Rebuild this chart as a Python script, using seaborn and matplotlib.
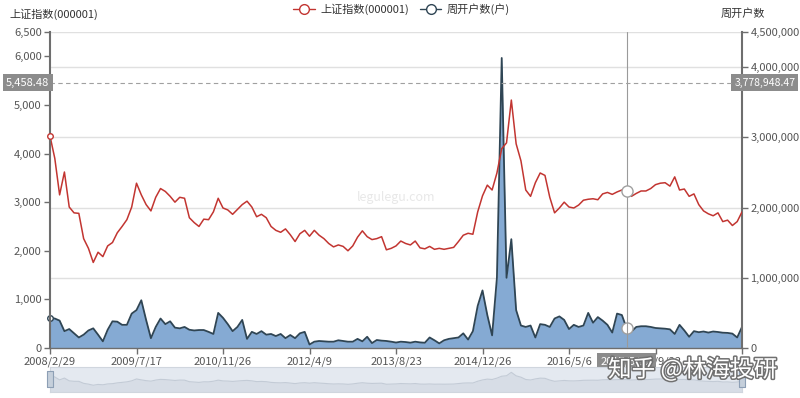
import numpy as np
import pandas as pd
import matplotlib
matplotlib.use("Agg")
import matplotlib.pyplot as plt
import matplotlib.patheffects as pe
from matplotlib.lines import Line2D
from matplotlib.ticker import FuncFormatter
from matplotlib.transforms import blended_transform_factory
import seaborn as sns

# 每 4 周取一个点，从 2008/2/29 开始
week_step = 4

sh_index = [
    4360, 3900, 3150, 3620, 2900, 2780, 2770, 2250, 2050, 1760,
    1970, 1880, 2100, 2170, 2370, 2500, 2640, 2900, 3390, 3150,
    2950, 2820, 3100, 3280, 3220, 3120, 3000, 3100, 3080, 2680,
    2580, 2500, 2650, 2640, 2800, 3080, 2880, 2840, 2750, 2850,
    2950, 3020, 2900, 2700, 2750, 2680, 2500, 2420, 2380, 2450,
    2330, 2190, 2350, 2420, 2300, 2420, 2320, 2250, 2150, 2080,
    2120, 2090, 2000, 2100, 2280, 2410, 2290, 2230, 2250, 2290,
    2020, 2050, 2100, 2200, 2150, 2120, 2200, 2060, 2040, 2090,
    2030, 2050, 2030, 2050, 2070, 2190, 2320, 2360, 2340, 2800,
    3130, 3350, 3250, 3600, 4100, 4220, 5100, 4200, 3850, 3250,
    3120, 3400, 3600, 3550, 3100, 2780, 2880, 3000, 2900, 2880,
    2940, 3040, 3060, 3070, 3050, 3170, 3200, 3160, 3210, 3250,
    3230, 3120, 3180, 3230, 3230, 3280, 3360, 3390, 3400, 3330,
    3520, 3250, 3270, 3120, 3170, 2950, 2820, 2760, 2720, 2780,
    2600, 2630, 2520, 2600, 2800,
]

# 周开户数(户)
accounts = [
    430000, 420000, 390000, 240000, 270000, 210000, 150000, 190000, 250000, 280000,
    190000, 95000, 260000, 380000, 375000, 330000, 330000, 490000, 540000, 680000,
    400000, 140000, 300000, 420000, 340000, 380000, 290000, 280000, 300000, 260000,
    250000, 256000, 256000, 230000, 200000, 500000, 430000, 340000, 240000, 300000,
    400000, 130000, 230000, 200000, 240000, 190000, 200000, 170000, 200000, 140000,
    185000, 140000, 209000, 230000, 50000, 90000, 100000, 95000, 90000, 90000,
    110000, 100000, 90000, 90000, 130000, 95000, 160000, 70000, 114000, 105000,
    100000, 90000, 78000, 90000, 85000, 76000, 90000, 80000, 75000, 150000,
    110000, 66000, 110000, 130000, 140000, 150000, 209000, 120000, 240000, 600000,
    820000, 470000, 180000, 1000000, 4130000, 1000000, 1550000, 540000, 320000, 300000,
    320000, 150000, 340000, 330000, 300000, 420000, 450000, 400000, 270000, 330000,
    300000, 320000, 500000, 360000, 440000, 390000, 330000, 220000, 490000, 470000,
    280000, 235000, 300000, 310000, 310000, 300000, 285000, 280000, 275000, 266000,
    200000, 330000, 250000, 160000, 240000, 225000, 235000, 220000, 235000, 228000,
    218000, 215000, 205000, 150000, 300000,
]

x_tick_labels = ["2008/2/29", "2009/7/17", "2010/11/26", "2012/4/9", "2013/8/23",
                 "2014/12/26", "2016/5/6", "2017/9/22", ""]
left_ticks = [0, 1000, 2000, 3000, 4000, 5000, 6000, 6500]
right_ticks = [0, 1000000, 2000000, 3000000, 4000000, 4500000]

# 十字准星
cross_week = 480
cross_date = "2017/5/12"
cross_left = 5458.48
cross_right = 3778948.47

RED = "#c23531"
DARK = "#2f4554"
FILL = "#85aad3"
GREY_TXT = "#555555"

df = pd.DataFrame({
    "week": np.arange(len(sh_index)) * week_step,
    "index": sh_index,
    "accounts": accounts,
})
n_weeks = int(df["week"].max())

sns.set_theme(style="white")
plt.rcParams["font.family"] = ["Noto Sans CJK SC", "DejaVu Sans"]

fig = plt.figure(figsize=(8, 3.98), dpi=100)
ax = fig.add_axes([0.0625, 0.1256, 0.865, 0.794])
ax2 = ax.twinx()
ax2.set_zorder(ax.get_zorder() - 1)
ax.patch.set_visible(False)

# 周开户数：面积 + 深色线
ax2.fill_between(df["week"], df["accounts"], color=FILL, lw=0)
sns.lineplot(data=df, x="week", y="accounts", ax=ax2, color=DARK, linewidth=1.3)
ax2.set_ylim(0, 4500000)
ax2.set_yticks(right_ticks)
ax2.yaxis.set_major_formatter(FuncFormatter(lambda v, p: f"{v:,.0f}"))
ax2.yaxis.grid(True, color="#e0e0e0", lw=1)
ax2.set_axisbelow(True)

# 上证指数
sns.lineplot(data=df, x="week", y="index", ax=ax, color=RED, linewidth=1.1)
ax.set_ylim(0, 6500)
ax.set_yticks(left_ticks)
ax.yaxis.set_major_formatter(FuncFormatter(lambda v, p: f"{v:,.0f}"))
ax.set_xlim(0, n_weeks)
ax.set_xticks(np.arange(0, n_weeks + 1, 72))
ax.set_xticklabels(x_tick_labels)
ax.grid(False)

for a in (ax, ax2):
    a.set_xlabel("")
    a.set_ylabel("")
    for s in a.spines.values():
        s.set_visible(False)

ax.spines["left"].set_visible(True)
ax.spines["left"].set_color("#6e6e6e")
ax.spines["left"].set_linewidth(1.5)
ax.spines["bottom"].set_visible(True)
ax.spines["bottom"].set_color("#6e6e6e")
ax.spines["bottom"].set_linewidth(1.0)
ax2.spines["right"].set_visible(True)
ax2.spines["right"].set_color("#6e6e6e")
ax2.spines["right"].set_linewidth(1.5)

ax.tick_params(axis="y", left=True, length=4, width=1, color="#6e6e6e",
               labelsize=8, labelcolor=GREY_TXT, pad=2)
ax.tick_params(axis="x", bottom=True, length=4, width=1, color="#6e6e6e",
               labelsize=8, labelcolor=GREY_TXT, pad=2)
ax2.tick_params(axis="y", right=True, length=4, width=1, color="#6e6e6e",
                labelsize=8, labelcolor=GREY_TXT, pad=2)

# 起点小圆圈
ax.plot(df["week"].iloc[0], df["index"].iloc[0], "o", ms=4, mfc="white", mec=RED, zorder=5, clip_on=False)
ax2.plot(df["week"].iloc[0], df["accounts"].iloc[0], "o", ms=4, mfc="white", mec=DARK, zorder=5, clip_on=False)

# 十字准星
ax.axvline(cross_week, color="#9a9a9a", lw=0.8, zorder=4)
ax.axhline(cross_left, color="#a0a0a0", lw=0.8, ls=(0, (4, 3)), zorder=4)
ci = cross_week // week_step
ax.plot(cross_week, df["index"].iloc[ci], "o", ms=8, mfc="white", mec="#a0a0a0", mew=1, zorder=6)
ax2.plot(cross_week, df["accounts"].iloc[ci], "o", ms=8, mfc="white", mec="#a0a0a0", mew=1, zorder=6)

box = dict(boxstyle="square,pad=0.3", fc="#8c8c8c", ec="none")
ax.text(-0.001, cross_left, f"{cross_left:,.2f}", transform=blended_transform_factory(ax.transAxes, ax.transData),
        ha="right", va="center", color="white", fontsize=8, bbox=box, zorder=7)
ax2.text(0.994, cross_right, f"{cross_right:,.2f}", transform=blended_transform_factory(fig.transFigure, ax2.transData),
         ha="right", va="center", color="white", fontsize=7.5, bbox=box, zorder=7)
ax.annotate(cross_date, xy=(cross_week, 0), xycoords=blended_transform_factory(ax.transData, ax.transAxes),
            xytext=(0, -6), textcoords="offset points", ha="center", va="top",
            color="white", fontsize=8, bbox=box, zorder=7)

# 水印
ax.text(0.5, 0.475, "legulegu.com", transform=ax.transAxes, ha="center", va="center",
        color="#e8e8e8", fontsize=9, zorder=1)

# 轴名称和图例
fig.text(0.012, 0.965, "上证指数(000001)", fontsize=8, color="#333333", va="center", ha="left")
fig.text(0.928, 0.965, "周开户数", fontsize=8, color="#333333", va="center", ha="center")
handles = [
    Line2D([0], [0], color=RED, lw=1, marker="o", ms=7, mfc="white", mec=RED),
    Line2D([0], [0], color=DARK, lw=1, marker="o", ms=7, mfc="white", mec=DARK),
]
leg = fig.legend(handles, ["上证指数(000001)", "周开户数(户)"], loc="center",
                 bbox_to_anchor=(0.502, 0.977), ncol=2, frameon=False, fontsize=8,
                 handlelength=1.9, columnspacing=1.0, handletextpad=0.5)
for t in leg.get_texts():
    t.set_color("#333333")

# 底部缩放条
ax_s = fig.add_axes([0.0625, 0.015, 0.865, 0.063])
ax_s.set_facecolor("#e4e9f0")
ax_s.fill_between(df["week"], df["index"], color="#d7dde6", lw=0)
sns.lineplot(data=df, x="week", y="index", ax=ax_s, color="#c3cbd6", linewidth=0.8)
ax_s.set_xlim(0, n_weeks)
ax_s.set_ylim(0, 6500)
ax_s.set_xticks([])
ax_s.set_yticks([])
ax_s.set_xlabel("")
ax_s.set_ylabel("")
for s in ax_s.spines.values():
    s.set_color("#d0d6de")
    s.set_linewidth(0.8)
handle_shape = [(-1, -2.2), (1, -2.2), (1, 2.2), (-1, 2.2), (-1, -2.2)]
ax_s.plot([0, n_weeks], [3250, 3250], ls="none", marker=handle_shape, ms=11,
          mfc="#c5cfdb", mec="#8d9fb5", mew=0.8, clip_on=False, zorder=5)

fig.text(0.76, 0.072, "知乎 @林海投研", fontsize=17, color="white", ha="left", va="center",
         path_effects=[pe.withStroke(linewidth=2.2, foreground="#707070")], zorder=20)

fig.savefig("out.png", dpi=100)
